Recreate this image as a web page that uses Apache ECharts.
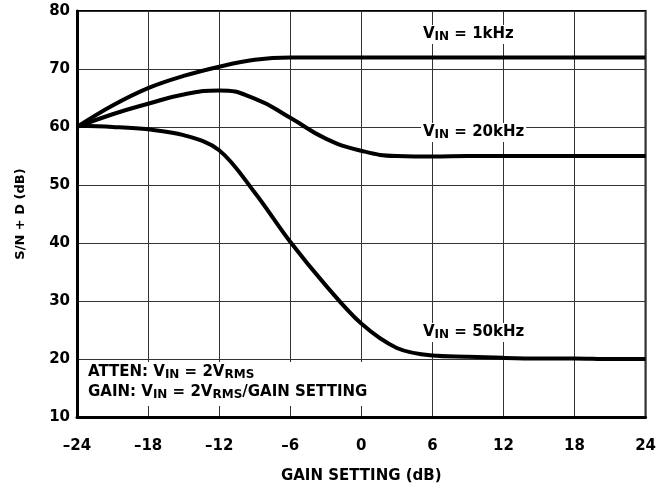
<!DOCTYPE html>
<html><head><meta charset="utf-8">
<script src="https://cdn.jsdelivr.net/npm/echarts@6/dist/echarts.min.js"></script>
<style>html,body{margin:0;padding:0;background:#fff}#c{width:659px;height:489px}</style>
</head><body><div id="c"></div>
<script>
const xTicks = [-24, -18, -12, -6, 0, 6, 12, 18, 24];
const yTicks = [10, 20, 30, 40, 50, 60, 70, 80];
const gain    = [-24, -21, -18, -15, -12, -9, -6, -3, 0, 3, 6, 9, 12, 15, 18, 21, 24];
const snr1k   = [60, 63.7, 66.7, 68.8, 70.4, 71.6, 72, 72, 72, 72, 72, 72, 72, 72, 72, 72, 72];
const snr20k  = [60, 62.2, 64, 65.6, 66.3, 64.9, 61.6, 58, 55.9, 55, 54.9, 55, 55, 55, 55, 55, 55];
const snr50k  = [60.2, 60, 59.6, 58.6, 56, 48.7, 40.2, 32.7, 26.1, 21.9, 20.6, 20.4, 20.2, 20.1, 20.1, 20, 20];

const FONT = '"DejaVu Sans", sans-serif';
const chart = echarts.init(document.getElementById('c'), null, {renderer: 'canvas'});
const lineStyle = {color: '#000', width: 4};
function mk(xs, ys) { return xs.map((x, i) => [x, ys[i]]); }
const rich = {
  m: {fontFamily: FONT, fontWeight: 'bold', fontSize: 15, color: '#000'},
  s: {fontFamily: FONT, fontWeight: 'bold', fontSize: 12, color: '#000', padding: [5, 0, 0, 0]}
};
function label(txt, x, y) {
  return {type: 'text', left: x, top: y, z: 100,
    style: {text: txt, rich: rich, backgroundColor: '#fff', padding: [1, 2, 1, 2]}};
}
chart.setOption({
  animation: false,
  grid: {left: 77, right: 11, top: 11, bottom: 71, show: true, borderColor: '#000', borderWidth: 2},
  xAxis: {type: 'value', min: -24, max: 24, interval: 6,
    axisLine: {show: true, onZero: false, lineStyle: {color: '#000', width: 3}},
    axisTick: {show: false},
    splitLine: {show: true, lineStyle: {color: '#333', width: 1}},
    axisLabel: {margin: 22, color: '#000', fontFamily: FONT, fontWeight: 'bold', fontSize: 15,
      formatter: v => String(v).replace('-', '\u2013')},
    name: 'GAIN SETTING (dB)', nameLocation: 'middle', nameGap: 52,
    nameTextStyle: {color: '#000', fontFamily: FONT, fontWeight: 'bold', fontSize: 15}
  },
  yAxis: {type: 'value', min: 10, max: 80, interval: 10,
    axisLine: {show: true, onZero: false, lineStyle: {color: '#000', width: 3}},
    axisTick: {show: false},
    splitLine: {show: true, lineStyle: {color: '#333', width: 1}},
    axisLabel: {margin: 7, color: '#000', fontFamily: FONT, fontWeight: 'bold', fontSize: 15},
    name: 'S/N + D (dB)', nameLocation: 'middle', nameGap: 50, nameRotate: 90,
    nameTextStyle: {color: '#000', fontFamily: FONT, fontWeight: 'bold', fontSize: 13}
  },
  series: [
    {type: 'line', data: mk(gain, snr1k), smooth: 0.4, showSymbol: false, lineStyle: lineStyle, z: 3},
    {type: 'line', data: mk(gain, snr20k), smooth: 0.5, showSymbol: false, lineStyle: lineStyle, z: 3},
    {type: 'line', data: mk(gain, snr50k), smooth: 0.35, showSymbol: false, lineStyle: lineStyle, z: 3}
  ],
  graphic: [
    label('{m|V}{s|IN}{m| = 1kHz}', 421, 25),
    label('{m|V}{s|IN}{m| = 20kHz}', 421, 123),
    label('{m|V}{s|IN}{m| = 50kHz}', 421, 323),
    {type: 'rect', left: 80, top: 362, z: 90, shape: {width: 312, height: 44}, style: {fill: '#fff'}},
    {type: 'text', left: 88, top: 362, z: 100,
      style: {text: '{m|ATTEN: V}{s|IN}{m| = 2V}{s|RMS}\n{m|GAIN: V}{s|IN}{m| = 2V}{s|RMS}{m|/GAIN SETTING}', rich: rich, lineHeight: 20}}
  ]
});
</script></body></html>
